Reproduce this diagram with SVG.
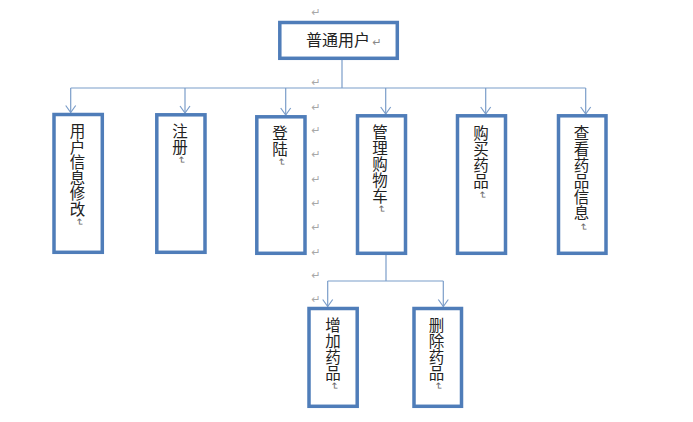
<svg xmlns="http://www.w3.org/2000/svg" width="693" height="422" viewBox="0 0 693 422">
<style>
.box{fill:#fff;stroke:#4f7db9;stroke-width:3.5}
.ln{fill:none;stroke:#7b9dc9;stroke-width:1.2}
.t{font-family:"Noto Sans CJK SC","Liberation Sans",sans-serif;font-size:16px;fill:#222;text-anchor:middle}
.c{font-family:"Noto Sans CJK SC","Liberation Sans",sans-serif;font-size:15.5px;fill:#222;text-anchor:middle}
.pm{font-family:"DejaVu Sans",sans-serif;font-size:11px;fill:#a8a8a8;text-anchor:middle}
.pmv{font-family:"DejaVu Sans",sans-serif;font-size:10px;fill:#666;text-anchor:middle}
</style>
<defs>
<marker id="ah" markerUnits="userSpaceOnUse" markerWidth="14" markerHeight="14" refX="0" refY="0" viewBox="-8 -7 10 14" orient="auto">
<path d="M-7,-5 L0,0 L-7,5" fill="none" stroke="#7b9dc9" stroke-width="1.2"/>
</marker>
</defs>
<rect width="693" height="422" fill="#fff"/>
<g id="marks">
<text class="pm" x="316" y="16">↵</text>
<text class="pm" x="316" y="86">↵</text>
<text class="pm" x="316" y="111">↵</text>
<text class="pm" x="316" y="134">↵</text>
<text class="pm" x="316" y="158">↵</text>
<text class="pm" x="316" y="183">↵</text>
<text class="pm" x="316" y="207">↵</text>
<text class="pm" x="316" y="231">↵</text>
<text class="pm" x="316" y="256">↵</text>
<text class="pm" x="316" y="279">↵</text>
<text class="pm" x="316" y="303">↵</text>
</g>
<g id="connectors">
<path class="ln" d="M342,60 V88"/>
<path class="ln" d="M70.7,88 H585.7"/>
<path class="ln" d="M70.7,88 V112.5" marker-end="url(#ah)"/>
<path class="ln" d="M185,88 V113" marker-end="url(#ah)"/>
<path class="ln" d="M285.7,88 V115" marker-end="url(#ah)"/>
<path class="ln" d="M385.7,88 V114" marker-end="url(#ah)"/>
<path class="ln" d="M485.7,88 V114" marker-end="url(#ah)"/>
<path class="ln" d="M585.7,88 V114" marker-end="url(#ah)"/>
<path class="ln" d="M386,255 V281"/>
<path class="ln" d="M327.7,281 H443.3"/>
<path class="ln" d="M327.7,281 V306.5" marker-end="url(#ah)"/>
<path class="ln" d="M443.3,281 V306.5" marker-end="url(#ah)"/>
</g>
<g id="n-root">
<rect class="box" x="279.8" y="22.5" width="117.5" height="35.8"/>
<text class="t" x="338" y="46">普通用户</text>
<text class="pm" x="377" y="46" style="fill:#888">↵</text>
</g>
<g id="n-userinfo">
<rect class="box" x="54" y="114.5" width="48.3" height="137.8"/>
<text class="c"><tspan x="77.5" y="137">用</tspan><tspan x="77.5" y="152.5">户</tspan><tspan x="77.5" y="168">信</tspan><tspan x="77.5" y="183.5">息</tspan><tspan x="77.5" y="199">修</tspan><tspan x="77.5" y="214.5">改</tspan></text>
<text class="pmv" transform="translate(80,222) rotate(90)" y="4">↵</text>
</g>
<g id="n-register">
<rect class="box" x="156.8" y="114.8" width="48.2" height="137.5"/>
<text class="c"><tspan x="180" y="137">注</tspan><tspan x="180" y="152.5">册</tspan></text>
<text class="pmv" transform="translate(182,160) rotate(90)" y="4">↵</text>
</g>
<g id="n-login">
<rect class="box" x="256.8" y="116.8" width="48.2" height="136.5"/>
<text class="c"><tspan x="280" y="139">登</tspan><tspan x="280" y="154.5">陆</tspan></text>
<text class="pmv" transform="translate(282,162) rotate(90)" y="4">↵</text>
</g>
<g id="n-cart">
<rect class="box" x="357.5" y="115.8" width="48" height="137.5"/>
<text class="c"><tspan x="380" y="137.5">管</tspan><tspan x="380" y="153.5">理</tspan><tspan x="380" y="169.5">购</tspan><tspan x="380" y="185.5">物</tspan><tspan x="380" y="201.5">车</tspan></text>
<text class="pmv" transform="translate(382,209) rotate(90)" y="4">↵</text>
</g>
<g id="n-buy">
<rect class="box" x="457.5" y="115.8" width="48" height="137.5"/>
<text class="c"><tspan x="481" y="139">购</tspan><tspan x="481" y="155">买</tspan><tspan x="481" y="171">药</tspan><tspan x="481" y="187">品</tspan></text>
<text class="pmv" transform="translate(483,195) rotate(90)" y="4">↵</text>
</g>
<g id="n-view">
<rect class="box" x="558.5" y="115.8" width="47.5" height="137.5"/>
<text class="c"><tspan x="581.5" y="139">查</tspan><tspan x="581.5" y="155">看</tspan><tspan x="581.5" y="171">药</tspan><tspan x="581.5" y="187">品</tspan><tspan x="581.5" y="203">信</tspan><tspan x="581.5" y="219">息</tspan></text>
<text class="pmv" transform="translate(583.5,227) rotate(90)" y="4">↵</text>
</g>
<g id="n-add">
<rect class="box" x="309" y="308.5" width="48.2" height="97.8"/>
<text class="c"><tspan x="333" y="330.5">增</tspan><tspan x="333" y="346.5">加</tspan><tspan x="333" y="362.5">药</tspan><tspan x="333" y="378.5">品</tspan></text>
<text class="pmv" transform="translate(335,386) rotate(90)" y="4">↵</text>
</g>
<g id="n-del">
<rect class="box" x="414" y="308.5" width="47.5" height="97.8"/>
<text class="c"><tspan x="436.5" y="330.5">删</tspan><tspan x="436.5" y="346.5">除</tspan><tspan x="436.5" y="362.5">药</tspan><tspan x="436.5" y="378.5">品</tspan></text>
<text class="pmv" transform="translate(438.5,386) rotate(90)" y="4">↵</text>
</g>
</svg>
